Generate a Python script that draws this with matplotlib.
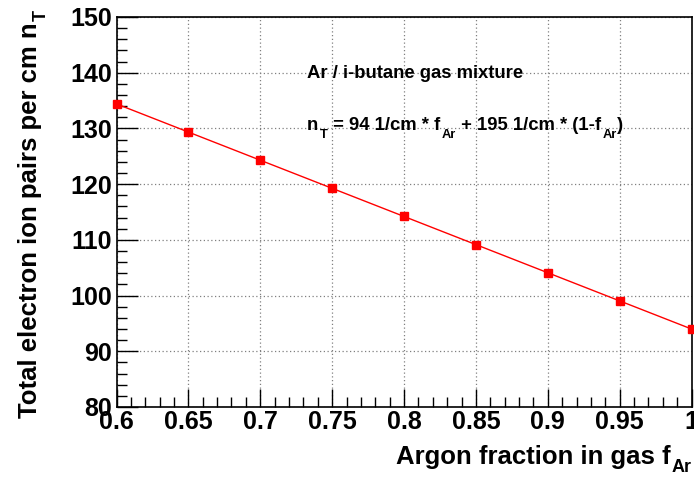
import matplotlib
matplotlib.use("Agg")
import matplotlib.pyplot as plt
from matplotlib.ticker import MultipleLocator

plt.rcParams['font.family'] = ['Liberation Sans', 'DejaVu Sans']
plt.rcParams['font.weight'] = 'bold'

argon_fraction = [0.60, 0.65, 0.70, 0.75, 0.80, 0.85, 0.90, 0.95, 1.00]
ion_pairs = [134.4, 129.35, 124.3, 119.25, 114.2, 109.15, 104.1, 99.05, 94.0]
x_ticks = [0.6, 0.65, 0.7, 0.75, 0.8, 0.85, 0.9, 0.95, 1.0]
x_tick_labels = ['0.6', '0.65', '0.7', '0.75', '0.8', '0.85', '0.9', '0.95', '1']
y_ticks = [80, 90, 100, 110, 120, 130, 140, 150]

W, H = 694, 482
DPI = 100
fig = plt.figure(figsize=(W / DPI, H / DPI), dpi=DPI)
left, right, top, bottom = 116.5, 691.5, 17, 407
ax = fig.add_axes([left / W, 1 - bottom / H, (right - left) / W, (bottom - top) / H])

ax.plot(argon_fraction, ion_pairs, color='red', lw=1.0, marker='s', ms=5.5,
        mec='red', mfc='red', zorder=3, clip_on=False)

ax.set_xlim(0.6, 1.0)
ax.set_ylim(80, 150)
ax.set_xticks(x_ticks)
ax.set_xticklabels(x_tick_labels)
ax.set_yticks(y_ticks)
ax.xaxis.set_minor_locator(MultipleLocator(0.01))
ax.yaxis.set_minor_locator(MultipleLocator(2))
ax.tick_params(axis='both', which='both', direction='in', top=False, right=False, colors='black')
ax.tick_params(axis='x', which='major', length=13, width=1, labelsize=18, pad=2)
ax.tick_params(axis='y', which='major', length=15, width=1, labelsize=18, pad=3)
ax.tick_params(axis='both', which='minor', length=7, width=1)
for lab in ax.get_xticklabels() + ax.get_yticklabels():
    lab.set_fontweight('bold')

ax.grid(True, which='major', color='#808080', linestyle=(0, (1, 2)), lw=0.9)
for s in ax.spines.values():
    s.set_linewidth(1.2)

renderer = fig.canvas.get_renderer()


def measure(s, size):
    t = fig.text(0, 0, 'x' + s + 'x', fontsize=size, fontweight='bold')
    w1 = t.get_window_extent(renderer).width
    t.remove()
    t = fig.text(0, 0, 'xx', fontsize=size, fontweight='bold')
    w0 = t.get_window_extent(renderer).width
    t.remove()
    return w1 - w0


def rich(pieces, size, x, y, align='left', rotation=0, sub_scale=0.7, sub_shift=0.4, sub_gap=1.5):
    """pieces: list of (text, is_sub). x, y: pixel coords from top-left of baseline start."""
    em = size * DPI / 72.0
    items = []
    total = 0.0
    for txt, sub in pieces:
        sz = size * sub_scale if sub else size
        gap = sub_gap if sub else 0.0
        w = measure(txt, sz)
        items.append((txt, sz, total + gap, sub))
        total += gap + w
    start = -total if align == 'right' else 0.0
    for txt, sz, off, sub in items:
        d = start + off
        down = sub_shift * em if sub else 0.0
        if rotation == 0:
            px, py = x + d, y + down
        else:
            px, py = x + down, y - d
        fig.text(px / W, 1 - py / H, txt, fontsize=sz, fontweight='bold',
                 ha='left', va='baseline', rotation=rotation, rotation_mode='anchor')


rich([('Argon fraction in gas f', False), ('Ar', True)], 18.5, 692, 464,
     align='right', sub_shift=0.33)
rich([('Total electron ion pairs per cm n', False), ('T', True)], 18.5, 37, 418,
     rotation=90, sub_shift=0.33)

rich([('Ar / i-butane gas mixture', False)], 13.3, 307, 78)
rich([('n', False), ('T', True), (' = 94 1/cm * f', False), ('Ar', True),
      (' + 195 1/cm * (1-f', False), ('Ar', True), (')', False)], 13.3, 307, 130,
     sub_shift=0.42)

fig.savefig('out.png', dpi=DPI)
